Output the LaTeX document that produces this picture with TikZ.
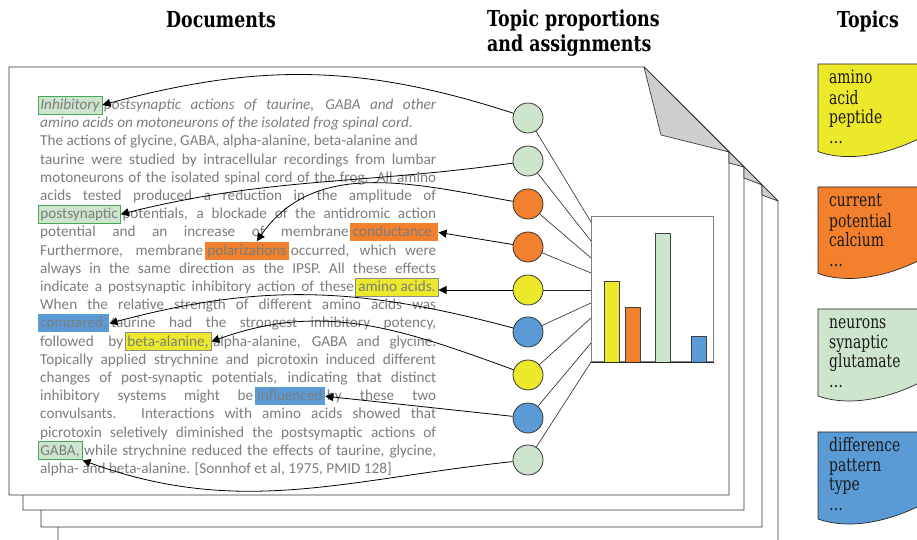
\documentclass[tikz,border=0pt]{standalone}
\usepackage{fontspec}
\usetikzlibrary{arrows.meta,calc}
\newfontfamily\docfont{Carlito}
\newfontfamily\serifc[FakeStretch=0.79]{DejaVu Serif}
\newfontfamily\serift[FakeStretch=0.75]{DejaVu Serif}
\newcommand\doctext{\docfont\fontsize{15.2}{18.2}\selectfont}
\newcommand\ttlfont{\serifc\bfseries\fontsize{22}{25}\selectfont}
\newcommand\tpcfont{\serift\fontsize{18.5}{19.6}\selectfont}
\newcommand\jline[1]{\hbox to 396pt{#1}}
\definecolor{tyellow}{RGB}{236,233,42}
\definecolor{torange}{RGB}{242,128,44}
\definecolor{tgreen}{RGB}{204,229,204}
\definecolor{tblue}{RGB}{91,155,213}
\definecolor{hlborder}{RGB}{72,168,88}
\definecolor{txtgray}{RGB}{125,125,125}
\definecolor{flapgray}{RGB}{205,207,207}
\tikzset{
  page/.style={fill=white, draw=black!80, line width=0.8pt},
  flap/.style={fill=flapgray, draw=black!80, line width=0.7pt, line join=round},
  title/.style={inner sep=0pt, font=\ttlfont, text=black},
  txt/.style={inner sep=0pt, anchor=base west, font=\doctext, text=txtgray},
  hl/.style={inner xsep=2.5pt, inner ysep=0pt, text height=13.5pt, text depth=4.5pt, font=\doctext, text=txtgray, line width=0.8pt},
  hlg/.style={hl, fill=tgreen, draw=hlborder},
  hlo/.style={hl, fill=torange},
  hly/.style={hl, fill=tyellow, draw=black!45},
  hlb/.style={hl, fill=tblue},
  tc/.style={circle, minimum size=30pt, inner sep=0pt, draw=black!80, line width=0.8pt},
  lk/.style={draw=black!85, line width=0.6pt},
  arr/.style={draw=black, line width=0.8pt, -{Triangle[length=8pt,width=8pt]}},
  bar/.style={draw=black!75, line width=0.7pt},
  sheet/.style={draw=black!85, line width=0.7pt},
  tword/.style={inner sep=0pt, anchor=north west, align=left, font=\tpcfont, text=black!90}
}
\begin{document}
\begin{tikzpicture}[x=1pt,y=1pt]
\useasboundingbox (0,0) rectangle (917,540);
% pages
\draw[page] (58,-5) -- (58,424) -- (693,424) -- (778,339) -- (778,-5);
\draw[page] (41,13) -- (41,441) -- (676,441) -- (762,355) -- (762,13) -- cycle;
\draw[page] (23,30) -- (23,458) -- (659,458) -- (744,373) -- (744,30) -- cycle;
\draw[page] (9,45) -- (9,473) -- (644,473) -- (729,388) -- (729,45) -- cycle;
\draw[flap] (644,473) -- (661,405) -- (729,388) -- cycle;
\draw[flap] (729,388) -- (729,377) -- (744,373) -- cycle;
\draw[flap] (744,373) -- (744,362) -- (762,355) -- cycle;
\draw[flap] (762,355) -- (762,345) -- (778,339) -- cycle;
% titles
\node[title, anchor=base] (tdoc) at (221,512) {Documents};
\node[title, anchor=base west] (tprop1) at (487,513) {Topic proportions};
\node[title, anchor=base west] (tprop2) at (487,488) {and assignments};
\node[title, anchor=base] (ttop) at (868,512) {Topics};
% document text
\node[hlg, anchor=base west] (w1) at (37.5,430.5) {\itshape Inhibitory\hspace{5pt}};
\path let \p1=(w1.east) in node[txt] (l1) at ([xshift=1.5pt]w1.base east) {\itshape\hbox to \dimexpr436pt-\x1-1.5pt\relax{postsynaptic actions of taurine, GABA and other}};
\node[txt] (l2) at (40,412.3) {\itshape amino acids on motoneurons of the isolated frog spinal cord.};
\node[txt] (l3) at (40,394.1) {The actions of glycine, GABA, alpha-alanine, beta-alanine and};
\node[txt] (l4) at (40,375.9) {\jline{taurine were studied by intracellular recordings from lumbar}};
\node[txt] (l5) at (40,357.7) {\jline{motoneurons of the isolated spinal cord of the frog. All amino}};
\node[txt] (l6) at (40,339.5) {\jline{acids tested produced a reduction in the amplitude of}};
\node[hlg, anchor=base west] (w7) at (37.5,321.3) {postsynaptic};
\path let \p1=(w7.east) in node[txt] (l7) at ([xshift=1.5pt]w7.base east) {\hbox to \dimexpr436pt-\x1-1.5pt\relax{potentials, a blockade of the antidromic action}};
\node[hlo, anchor=base east] (w8) at (438.5,303.1) {conductance.};
\path let \p1=(w8.west) in node[txt] (l8) at (40,303.1) {\hbox to \dimexpr\x1-41.5pt\relax{potential and an increase of membrane}};
\node[hlo, anchor=base west] (w9) at (204.5,284.9) {polarizations\hspace{4pt}};
\path let \p1=(w9.west) in node[txt] (l9a) at (40,284.9) {\hbox to \dimexpr\x1-41.5pt\relax{Furthermore, membrane}};
\path let \p1=(w9.east) in node[txt] (l9b) at ([xshift=1.5pt]w9.base east) {\hbox to \dimexpr436pt-\x1-1.5pt\relax{occurred, which were}};
\node[txt] (l10) at (40,266.7) {\jline{always in the same direction as the IPSP. All these effects}};
\node[hly, anchor=base east] (w11) at (438.5,248.5) {amino acids.};
\path let \p1=(w11.west) in node[txt] (l11) at (40,248.5) {\hbox to \dimexpr\x1-41.5pt\relax{indicate a postsynaptic inhibitory action of these}};
\node[txt] (l12) at (40,230.3) {\jline{When the relative strength of different amino acids was}};
\node[hlb, anchor=base west] (w13) at (37.5,212.1) {compared,};
\path let \p1=(w13.east) in node[txt] (l13) at ([xshift=1.5pt]w13.base east) {\hbox to \dimexpr436pt-\x1-1.5pt\relax{taurine had the strongest inhibitory potency,}};
\node[hly, anchor=base west] (w14) at (124.5,193.9) {beta-alanine,};
\path let \p1=(w14.west) in node[txt] (l14a) at (40,193.9) {\hbox to \dimexpr\x1-41.5pt\relax{followed by}};
\path let \p1=(w14.east) in node[txt] (l14b) at ([xshift=1.5pt]w14.base east) {\hbox to \dimexpr436pt-\x1-1.5pt\relax{alpha-alanine, GABA and glycine.}};
\node[txt] (l15) at (40,175.7) {\jline{Topically applied strychnine and picrotoxin induced different}};
\node[txt] (l16) at (40,157.5) {\jline{changes of post-synaptic potentials, indicating that distinct}};
\node[hlb, anchor=base west] (w17) at (254.5,139.3) {influenced};
\path let \p1=(w17.west) in node[txt] (l17a) at (40,139.3) {\hbox to \dimexpr\x1-41.5pt\relax{inhibitory systems might be}};
\path let \p1=(w17.east) in node[txt] (l17b) at ([xshift=1.5pt]w17.base east) {\hbox to \dimexpr436pt-\x1-1.5pt\relax{by these two}};
\node[txt] (l18) at (40,121.1) {\jline{convulsants. Interactions with amino acids showed that}};
\node[txt] (l19) at (40,102.9) {\jline{picrotoxin seletively diminished the postsymaptic actions of}};
\node[hlg, anchor=base west] (w20) at (37.5,84.7) {GABA,};
\path let \p1=(w20.east) in node[txt] (l20) at ([xshift=1.5pt]w20.base east) {\hbox to \dimexpr436pt-\x1-1.5pt\relax{while strychnine reduced the effects of taurine, glycine,}};
\node[txt] (l21) at (40,66.5) {alpha- and beta-alanine. [Sonnhof et al, 1975, PMID 128]};
% chart
\node[draw=black!50, fill=white, line width=0.8pt, inner sep=0pt, anchor=south west, minimum width=122pt, minimum height=145pt] (chart) at (591,178) {};
\draw[bar, fill=tyellow] (604,178) rectangle (619,259);
\draw[bar, fill=torange] (625,178) rectangle (640,233);
\draw[bar, fill=tgreen] (655,178) rectangle (670,307);
\draw[bar, fill=tblue] (691,178) rectangle (706,204);
\draw[black!85, line width=0.9pt] (chart.south west) -- (chart.south east);
\foreach \i/\y in {1/318,2/299,3/282,4/267,5/250,6/237,7/222,8/197,9/178}
  \coordinate (e\i) at (591,\y);
% topic circles
\foreach \i/\y/\c in {1/422/tgreen,2/379/tgreen,3/336/torange,4/293/torange,5/250/tyellow,6/208/tblue,7/165/tyellow,8/122/tblue,9/80/tgreen}
  \node[tc, fill=\c] (t\i) at (528,\y) {};
\foreach \i in {1,...,9}
  \draw[lk] (t\i) -- (e\i);
% assignment arrows
\draw[arr] (t1) to[out=162,in=15] (w1.east);
\draw[arr] (t2) to[out=188,in=14] (w7.east);
\draw[arr] (t3) to[out=170,in=55] ([xshift=10pt]w9.north);
\draw[arr] (t4) -- (w8.east);
\draw[arr] (t5) -- (t5 -| w11.east);
\draw[arr] (t6) to[out=165,in=15] (w13.east);
\draw[arr] (t7) to[out=160,in=20] (w14.east);
\draw[arr] (t8) -- (w17.east);
\draw[arr] (t9) to[out=186,in=-20] (w20.south east);
% topics
\filldraw[sheet, fill=tyellow] (925,476) -- (818,476) -- (818,388.4) .. controls (840,380.4) and (875,380.4) .. (917,400.4) -- (925,400.4);
\filldraw[sheet, fill=torange] (925,353) -- (818,353) -- (818,266.5) .. controls (840,258.5) and (875,258.5) .. (917,278.5) -- (925,278.5);
\filldraw[sheet, fill=tgreen] (925,231) -- (818,231) -- (818,144) .. controls (840,136) and (875,136) .. (917,156) -- (925,156);
\filldraw[sheet, fill=tblue] (925,108) -- (818,108) -- (818,21) .. controls (840,13) and (875,13) .. (917,33) -- (925,33);
\node[tword] (k1) at (829,470.5) {\strut amino\\acid\\peptide\\\dots};
\node[tword] (k2) at (829,347.5) {\strut current\\potential\\calcium\\\dots};
\node[tword] (k3) at (829,225.5) {\strut neurons\\synaptic\\glutamate\\\dots};
\node[tword] (k4) at (829,102.5) {\strut difference\\pattern\\type\\\dots};
\end{tikzpicture}
\end{document}
